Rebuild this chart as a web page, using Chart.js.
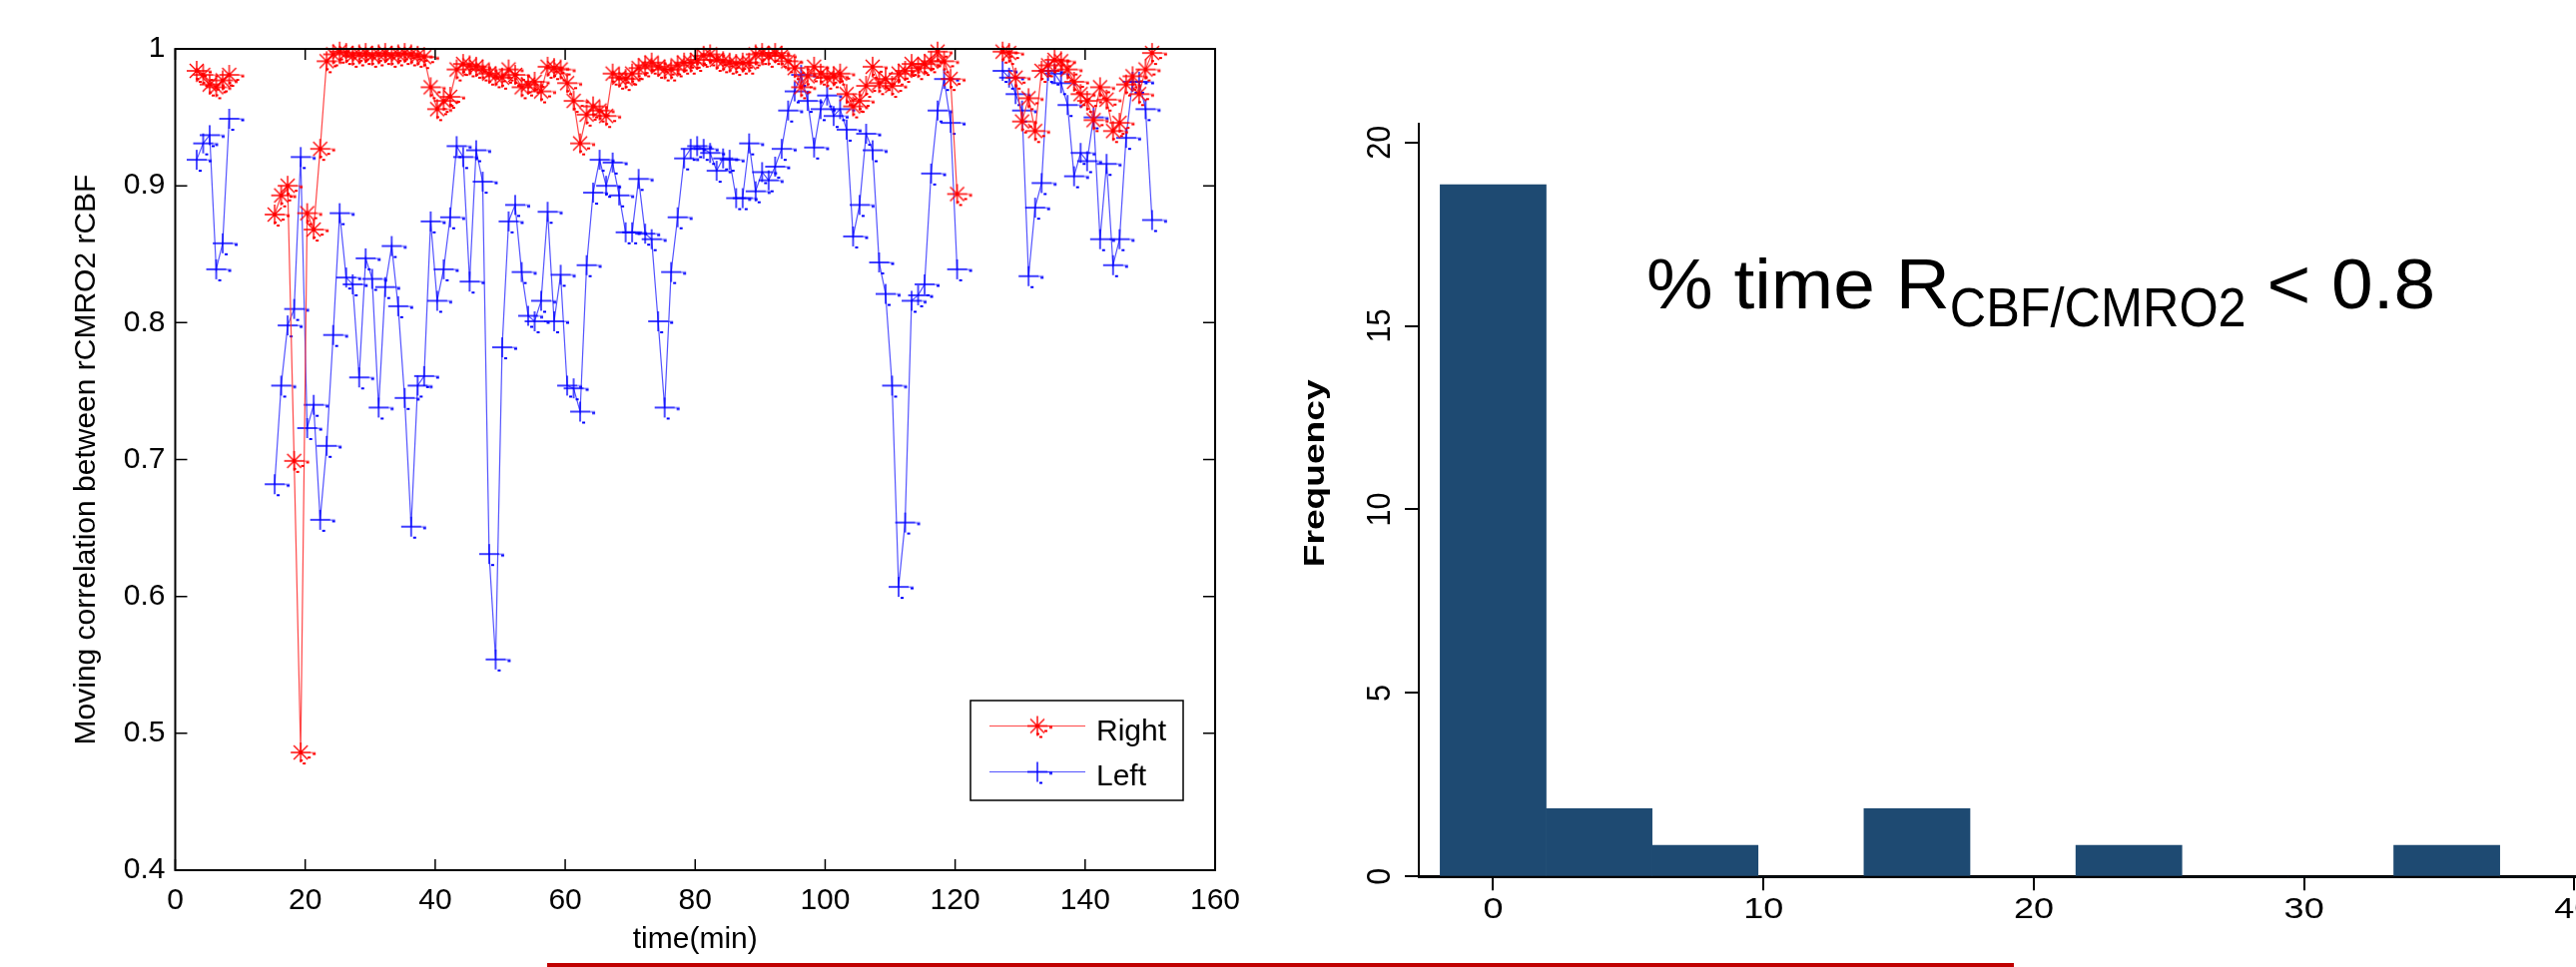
<!DOCTYPE html>
<html>
<head>
<meta charset="utf-8">
<script src="https://cdn.jsdelivr.net/npm/chart.js@4.4.1/dist/chart.umd.min.js"></script>
<style>
  html, body { margin: 0; padding: 0; background: #fff; overflow: hidden; }
  body { width: 2580px; height: 969px; position: relative; }
  #corrBox { position: absolute; left: 0; top: 0; width: 1260px; height: 969px; }
  #histBox { position: absolute; left: 1280px; top: 0; width: 1400px; height: 969px; }
  #rule { position: absolute; left: 548px; top: 965px; width: 1469px; height: 4px; background: #c00000; }
</style>
</head>
<body>
<div id="corrBox"><canvas id="corr"></canvas></div>
<div id="histBox"><canvas id="hist"></canvas></div>
<div id="rule"></div>
<script>
// moving correlation, one sample per minute (null = no data)
const TIME = [3.3,4.3,5.3,6.3,7.3,8.3,9.3,10.3,11.3,12.3,13.3,14.3,15.3,16.3,17.3,18.3,19.3,20.3,21.3,22.3,
  23.3,24.3,25.3,26.3,27.3,28.3,29.3,30.3,31.3,32.3,33.3,34.3,35.3,36.3,37.3,38.3,39.3,40.3,41.3,42.3,
  43.3,44.3,45.3,46.3,47.3,48.3,49.3,50.3,51.3,52.3,53.3,54.3,55.3,56.3,57.3,58.3,59.3,60.3,61.3,62.3,
  63.3,64.3,65.3,66.3,67.3,68.3,69.3,70.3,71.3,72.3,73.3,74.3,75.3,76.3,77.3,78.3,79.3,80.3,81.3,82.3,
  83.3,84.3,85.3,86.3,87.3,88.3,89.3,90.3,91.3,92.3,93.3,94.3,95.3,96.3,97.3,98.3,99.3,100.3,101.3,102.3,
  103.3,104.3,105.3,106.3,107.3,108.3,109.3,110.3,111.3,112.3,113.3,114.3,115.3,116.3,117.3,118.3,119.3,120.3,121.3,122.3,
  123.3,124.3,125.3,126.3,127.3,128.3,129.3,130.3,131.3,132.3,133.3,134.3,135.3,136.3,137.3,138.3,139.3,140.3,141.3,142.3,
  143.3,144.3,145.3,146.3,147.3,148.3,149.3,150.3];

const RIGHT = [0.984,0.981,0.974,0.972,0.977,0.981,
  null,null,null,null,null,null,
  0.879,0.893,0.900,0.699,0.486,0.880,0.868,0.927,0.991,0.996,0.998,0.997,0.995,0.996,0.997,0.995,0.996,0.997,0.995,0.996,0.997,0.996,0.995,0.994,
  0.972,0.956,0.962,0.965,0.985,0.989,0.988,0.987,0.985,0.982,0.980,0.979,0.985,0.981,0.972,0.974,0.976,0.969,0.987,0.986,
  0.985,0.975,0.962,0.931,0.952,0.958,0.955,0.951,0.982,0.979,0.978,0.982,0.986,0.988,0.990,0.987,0.985,0.985,0.988,0.990,
  0.990,0.992,0.995,0.996,0.992,0.991,0.990,0.989,0.990,0.990,0.996,0.997,0.995,0.997,0.995,0.991,0.986,0.972,0.980,0.987,
  0.982,0.979,0.980,0.982,0.967,0.958,0.962,0.973,0.987,0.975,0.978,0.973,0.982,0.984,0.989,0.986,0.989,0.991,0.998,0.991,
  0.978,0.894,
  null,null,null,null,null,null,
  0.998,0.997,0.979,0.947,0.964,0.940,0.984,0.988,0.992,0.991,0.985,0.976,0.967,0.962,0.948,0.972,0.963,0.940,0.946,0.974,
  0.980,0.967,0.985,0.997];

const LEFT = [0.919,0.931,0.937,0.839,0.858,0.949,
  null,null,null,null,null,null,
  0.682,0.754,0.798,0.810,0.921,0.723,0.740,0.656,0.710,0.791,0.880,0.833,0.828,0.760,0.847,0.832,0.738,0.826,0.856,0.812,0.745,0.651,0.754,0.761,
  0.874,0.816,0.839,0.877,0.929,0.921,0.830,0.926,0.903,0.631,0.554,0.782,0.874,0.886,0.837,0.805,0.801,0.816,0.881,0.801,
  0.835,0.754,0.752,0.735,0.842,0.895,0.919,0.900,0.917,0.893,0.866,0.866,0.905,0.865,0.861,0.801,0.738,0.837,0.877,0.920,
  0.927,0.929,0.927,0.924,0.911,0.920,0.919,0.891,0.891,0.931,0.896,0.910,0.904,0.914,0.927,0.955,0.969,0.981,0.962,0.928,
  0.956,0.966,0.951,0.956,0.941,0.863,0.886,0.938,0.926,0.844,0.821,0.754,0.607,0.654,0.816,0.820,0.828,0.909,0.955,0.978,
  0.946,0.839,
  null,null,null,null,null,null,
  0.984,0.979,0.967,0.955,0.834,0.884,0.902,0.984,0.982,0.975,0.959,0.907,0.924,0.918,0.950,0.861,0.916,0.842,0.861,0.935,
  0.976,0.976,0.956,0.875];

const X_TICKS = [0, 20, 40, 60, 80, 100, 120, 140, 160];
const Y_TICKS = [0.4, 0.5, 0.6, 0.7, 0.8, 0.9, 1];
const Y_LABELS = ["0.4", "0.5", "0.6", "0.7", "0.8", "0.9", "1"];

// histogram of % time R < 0.8
const BIN_CENTERS = [0, 3.92, 7.84, 11.76, 15.68, 19.6, 23.52, 27.44, 31.36, 35.28, 39.2];
const FREQ = [18.85, 1.85, 0.85, 0, 1.85, 0, 0.85, 0, 0, 0.85, 0];
const H_X_TICKS = [0, 10, 20, 30, 40];
const H_Y_TICKS = [0, 5, 10, 15, 20];

const FONT = '"Liberation Sans", Arial, Helvetica, sans-serif';
Chart.defaults.font.family = FONT;
Chart.defaults.color = "#000";

// marker glyphs; the source export leaves a dash and a couple of dots next to each one
function mark(kind, col) {
  const c = document.createElement("canvas");
  c.width = 50; c.height = 50;
  const g = c.getContext("2d"), m = 25;
  g.strokeStyle = col; g.fillStyle = col; g.lineWidth = 1.4;
  g.beginPath();
  g.moveTo(m - 10, m); g.lineTo(m + 10, m);
  g.moveTo(m, m - 10); g.lineTo(m, m + 10);
  if (kind === "star") {
    g.moveTo(m - 7, m - 7); g.lineTo(m + 7, m + 7);
    g.moveTo(m - 7, m + 7); g.lineTo(m + 7, m - 7);
  }
  g.stroke();
  g.globalAlpha = 0.55;
  g.fillRect(m + 10, m - 0.5, 5, 1.4);
  g.globalAlpha = 1;
  g.fillRect(m + 12, m + 0.5, 3, 2);
  g.fillRect(m + 2, m + 10, 3, 2);
  if (kind === "star") { g.fillRect(m + 7, m + 4, 3, 2); g.fillRect(m - 1, m + 7, 3, 2); }
  return c;
}
const starMark = mark("star", "#ff0000");
const plusMark = mark("plus", "#0000ff");

const corrFrame = {
  id: "corrFrame",
  afterDraw(chart) {
    const { ctx, chartArea: a } = chart;
    const sx = chart.scales.x, sy = chart.scales.y;
    ctx.save();
    ctx.strokeStyle = "#000";
    ctx.lineWidth = 1.5;
    ctx.beginPath();
    X_TICKS.forEach(v => {
      const p = sx.getPixelForValue(v);
      ctx.moveTo(p, a.bottom); ctx.lineTo(p, a.bottom - 11);
      ctx.moveTo(p, a.top); ctx.lineTo(p, a.top + 11);
    });
    Y_TICKS.forEach(v => {
      const p = sy.getPixelForValue(v);
      ctx.moveTo(a.left, p); ctx.lineTo(a.left + 12, p);
      ctx.moveTo(a.right, p); ctx.lineTo(a.right - 12, p);
    });
    ctx.stroke();
    ctx.lineWidth = 2;
    ctx.strokeRect(a.left, a.top, a.right - a.left, a.bottom - a.top);

    // legend box
    ctx.fillStyle = "#fff";
    ctx.fillRect(972, 702, 213, 100);
    ctx.lineWidth = 1.5;
    ctx.strokeRect(972, 702, 213, 100);
    const rows = [[chart.data.datasets[0], 727.5, 741.5], [chart.data.datasets[1], 773.5, 787]];
    ctx.font = "30px " + FONT;
    ctx.textAlign = "left";
    ctx.textBaseline = "alphabetic";
    rows.forEach(([ds, ly, by]) => {
      ctx.strokeStyle = ds.borderColor;
      ctx.lineWidth = 1.2;
      ctx.beginPath(); ctx.moveTo(991, ly); ctx.lineTo(1087, ly); ctx.stroke();
      ctx.drawImage(ds.pointStyle, 1039 - 25, ly - 25);
      ctx.fillStyle = "#000";
      ctx.fillText(ds.label, 1098, by);
    });
    ctx.restore();
  }
};

new Chart(document.getElementById("corr"), {
  type: "line",
  data: {
    datasets: [
      { label: "Right", data: TIME.map((t, i) => ({ x: t, y: RIGHT[i] })),
        borderColor: "rgba(255,40,40,0.85)", borderWidth: 1.2, pointStyle: starMark, pointRadius: 10, clip: false },
      { label: "Left", data: TIME.map((t, i) => ({ x: t, y: LEFT[i] })),
        borderColor: "rgba(40,40,255,0.8)", borderWidth: 1.2, pointStyle: plusMark, pointRadius: 10, clip: false }
    ]
  },
  options: {
    responsive: true, maintainAspectRatio: false, animation: false,
    layout: { padding: { top: 49, right: 43, left: 0, bottom: 0 } },
    plugins: { legend: { display: false }, tooltip: { enabled: false } },
    scales: {
      x: {
        type: "linear", min: 0, max: 160,
        afterBuildTicks: s => { s.ticks = X_TICKS.map(v => ({ value: v })); },
        afterFit: s => { s.height = 97; },
        grid: { display: false, drawTicks: false }, border: { display: false },
        ticks: { font: { size: 30 }, padding: 13, maxRotation: 0, callback: v => String(v) },
        title: { display: true, text: "time(min)", font: { size: 30 }, padding: { top: 0, bottom: 9 } }
      },
      y: {
        min: 0.4, max: 1,
        afterBuildTicks: s => { s.ticks = Y_TICKS.map(v => ({ value: v })); },
        afterFit: s => { s.width = 175.5; },
        grid: { display: false, drawTicks: false }, border: { display: false },
        ticks: { font: { size: 30 }, padding: 10, callback: (v, i) => Y_LABELS[i] },
        title: { display: true, text: "Moving correlation between rCMRO2 rCBF", font: { size: 30 }, padding: { top: 69, bottom: 0 } }
      }
    }
  },
  plugins: [corrFrame]
});

// text drawn with a horizontal stretch factor, returns the advance used
function stretchText(ctx, txt, x, y, sx) {
  ctx.save();
  ctx.translate(x, y);
  ctx.scale(sx, 1);
  ctx.fillText(txt, 0, 0);
  ctx.restore();
  return ctx.measureText(txt).width * sx;
}

const histText = {
  id: "histText",
  afterDraw(chart) {
    const { ctx, chartArea: a } = chart;
    const sx = chart.scales.x, sy = chart.scales.y;
    ctx.save();
    ctx.fillStyle = "#000";
    // vertical tick labels
    ctx.font = "34px " + FONT;
    ctx.textAlign = "center"; ctx.textBaseline = "alphabetic";
    H_Y_TICKS.forEach(v => {
      ctx.save();
      ctx.translate(a.left - 29.3, sy.getPixelForValue(v));
      ctx.rotate(-Math.PI / 2);
      ctx.scale(0.9, 1);
      ctx.fillText(String(v), 0, 0);
      ctx.restore();
    });
    // x tick labels
    ctx.font = "30px " + FONT;
    H_X_TICKS.forEach(v => {
      stretchText(ctx, String(v), sx.getPixelForValue(v), a.bottom + 41.7, 1.2);
    });
    // axis title
    ctx.save();
    ctx.font = "bold 29px " + FONT;
    ctx.translate(a.left - 95.4, (a.top + a.bottom) / 2 - 27);
    ctx.rotate(-Math.PI / 2);
    ctx.scale(1.28, 1);
    ctx.fillText("Frequency", 0, 0);
    ctx.restore();
    // annotation: % time R_CBF/CMRO2 < 0.8
    ctx.textAlign = "left";
    let x = 369;
    ctx.font = "70px " + FONT;
    x += stretchText(ctx, "% time R", x, 309, 1.07);
    ctx.font = "56px " + FONT;
    x += stretchText(ctx, "CBF/CMRO2", x, 327, 0.9);
    ctx.font = "70px " + FONT;
    stretchText(ctx, " < 0.8", x, 309, 1.07);
    ctx.restore();
  }
};

new Chart(document.getElementById("hist"), {
  type: "bar",
  data: {
    datasets: [{
      data: BIN_CENTERS.map((c, i) => ({ x: c, y: FREQ[i] })),
      backgroundColor: "#1e4a72", borderWidth: 0, barPercentage: 1, categoryPercentage: 1
    }]
  },
  options: {
    responsive: true, maintainAspectRatio: false, animation: false,
    layout: { padding: { top: 124.3, right: 47.5, left: 0, bottom: 0 } },
    plugins: { legend: { display: false }, tooltip: { enabled: false } },
    scales: {
      x: {
        type: "linear", min: -2.75, max: 42, offset: false, z: 1,
        afterBuildTicks: s => { s.ticks = H_X_TICKS.map(v => ({ value: v })); },
        afterFit: s => { s.height = 90.7; },
        grid: { drawOnChartArea: false, drawTicks: true, tickLength: 14, color: "#000", lineWidth: 2, offset: false },
        border: { display: true, color: "#000", width: 3 },
        ticks: { display: false }
      },
      y: {
        min: 0, max: 20.5,
        afterBuildTicks: s => { s.ticks = H_Y_TICKS.map(v => ({ value: v })); },
        afterFit: s => { s.width = 141; },
        grid: { drawOnChartArea: false, drawTicks: true, tickLength: 14, color: "#000", lineWidth: 2 },
        border: { display: true, color: "#000", width: 2 },
        ticks: { display: false }
      }
    }
  },
  plugins: [histText]
});
</script>
</body>
</html>
